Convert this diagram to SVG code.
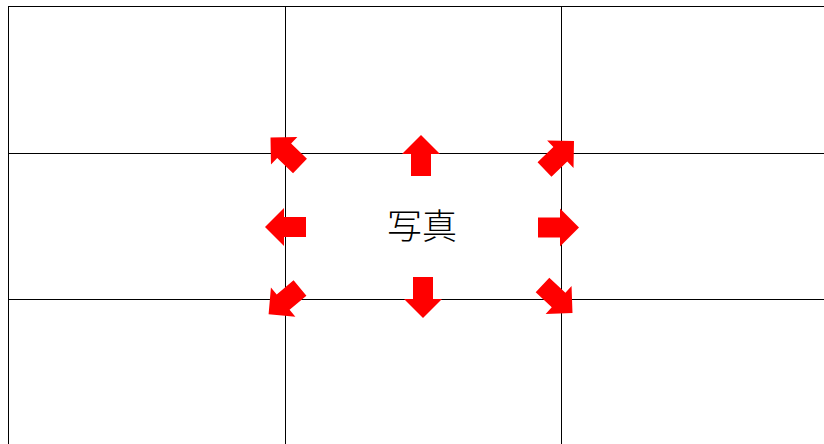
<svg xmlns="http://www.w3.org/2000/svg" width="824" height="444" viewBox="0 0 824 444">
<defs>
<style>
.grid line{stroke:#000;stroke-width:1;}
.arr{fill:#ff0000;}
.lbl{font-family:"Noto Sans CJK JP","Noto Sans CJK SC",sans-serif;font-size:35px;font-weight:300;fill:#000;text-anchor:middle;}
</style>
<path id="a" d="M0,-10 L22,-10 L22,-19 L41,0 L22,19 L22,10 L0,10 Z"/>
</defs>
<rect width="824" height="444" fill="#fff"/>
<g id="grid" class="grid">
<line x1="8.5" y1="6" x2="8.5" y2="444"/>
<line x1="285.5" y1="6" x2="285.5" y2="444"/>
<line x1="561.5" y1="6" x2="561.5" y2="444"/>
<line x1="8" y1="6.5" x2="824" y2="6.5"/>
<line x1="8" y1="153.5" x2="824" y2="153.5"/>
<line x1="8" y1="299.5" x2="824" y2="299.5"/>
</g>
<g id="connectors" class="arr">
<use href="#a" transform="translate(421,176) rotate(-90)"/>
<use href="#a" transform="translate(423,277) rotate(90)"/>
<use href="#a" transform="translate(306,227) rotate(180)"/>
<use href="#a" transform="translate(538,227.5)"/>
<use href="#a" transform="translate(300,166) rotate(-136)"/>
<use href="#a" transform="translate(544.5,169.5) rotate(-44)"/>
<use href="#a" transform="translate(300,288) rotate(140)"/>
<use href="#a" transform="translate(542.5,285) rotate(43)"/>
</g>
<g id="photo">
<text class="lbl" x="422" y="239">写真</text>
</g>
</svg>
